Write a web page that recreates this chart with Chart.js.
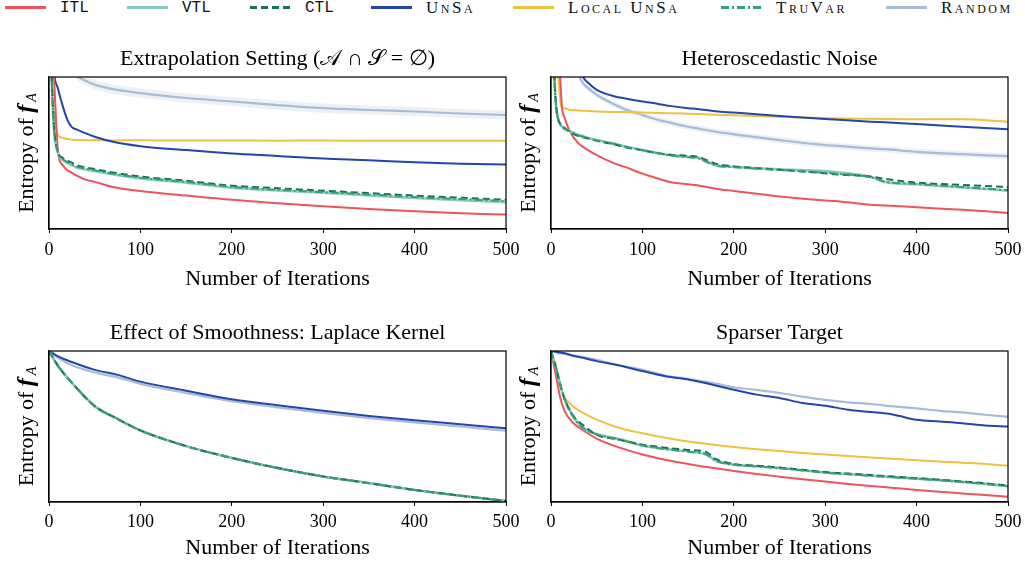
<!DOCTYPE html>
<html>
<head>
<meta charset="utf-8">
<script src="https://cdn.jsdelivr.net/npm/chart.js@4/dist/chart.umd.min.js"></script>
<style>
  body { margin: 0; width: 1025px; height: 562px; overflow: hidden; background: #fff; font-family: "Liberation Serif", serif; }
  .panel { position: absolute; }
  #legend { position: absolute; left: 0; top: 0; width: 1025px; height: 20px; }
  .entry { position: absolute; top: 0; height: 16px; display: flex; align-items: center; }
  .entry svg { display: block; }
  .entry span { margin-left: 14px; font-size: 17px; color: #111; line-height: 16px; }
  .mono { font-family: "Liberation Mono", monospace; font-size: 16px !important; }
  .sc { font-variant: small-caps; letter-spacing: 2.5px; }
</style>
</head>
<body>
<div id="legend"></div>
<div class="panel" style="left:0;top:40px"><canvas id="c1" width="520" height="252"></canvas></div>
<div class="panel" style="left:502px;top:40px"><canvas id="c2" width="520" height="252"></canvas></div>
<div class="panel" style="left:0;top:314px"><canvas id="c3" width="520" height="248"></canvas></div>
<div class="panel" style="left:502px;top:314px"><canvas id="c4" width="520" height="248"></canvas></div>
<script>
// ---- data (y is in plot-height units: 0 = bottom of axes, 1 = top) ----
const seriesNames = ["ITL", "VTL", "CTL", "UnSa", "Local UnSa", "TruVar", "Random"];
const xTicks = [0, 100, 200, 300, 400, 500];

// Extrapolation Setting
const p1X = [0, 5, 10, 15, 20, 25, 30, 40, 50, 70, 100, 150, 200, 250, 300, 350, 400, 450, 500];
const p1Itl = [1.5, 1.05, 0.5, 0.42, 0.386, 0.37, 0.353, 0.325, 0.31, 0.276, 0.25, 0.22, 0.192, 0.17, 0.15, 0.132, 0.117, 0.104, 0.095];
const p1Vtl = [1.5, 0.7, 0.495, 0.455, 0.435, 0.42, 0.405, 0.392, 0.381, 0.36, 0.333, 0.305, 0.272, 0.253, 0.238, 0.221, 0.204, 0.19, 0.177];
const p1Ctl = [1.5, 0.72, 0.505, 0.468, 0.45, 0.436, 0.42, 0.405, 0.394, 0.372, 0.345, 0.318, 0.285, 0.268, 0.252, 0.236, 0.22, 0.206, 0.192];
const p1UnSa = [1.6, 1.05, 0.92, 0.81, 0.72, 0.67, 0.655, 0.63, 0.607, 0.574, 0.545, 0.519, 0.497, 0.481, 0.464, 0.453, 0.439, 0.43, 0.424];
const p1Local = [1.5, 0.8, 0.615, 0.6, 0.592, 0.588, 0.585, 0.584, 0.585, 0.583, 0.584, 0.582, 0.583, 0.581, 0.582, 0.58, 0.581, 0.58, 0.58];
const p1TruVar = [1.5, 0.71, 0.5, 0.46, 0.44, 0.425, 0.41, 0.397, 0.386, 0.364, 0.338, 0.31, 0.277, 0.258, 0.243, 0.227, 0.21, 0.197, 0.184];
const p1Random = [1.5, 1.35, 1.25, 1.17, 1.1, 1.05, 1.01, 0.975, 0.95, 0.92, 0.894, 0.862, 0.839, 0.815, 0.795, 0.783, 0.773, 0.76, 0.75];
const p1RandomLo = [1.47, 1.32, 1.22, 1.14, 1.07, 1.02, 0.98, 0.945, 0.92, 0.89, 0.864, 0.832, 0.809, 0.785, 0.765, 0.753, 0.743, 0.73, 0.72];
const p1RandomHi = [1.53, 1.38, 1.28, 1.2, 1.13, 1.08, 1.04, 1.005, 0.98, 0.95, 0.924, 0.892, 0.869, 0.845, 0.825, 0.813, 0.803, 0.79, 0.78];

// Heteroscedastic Noise
const p2X = [0, 3, 5, 8, 10, 12, 15, 20, 30, 35, 40, 50, 70, 80, 100, 110, 130, 150, 160, 180, 200, 250, 300, 310, 350, 365, 400, 450, 500];
const p2Itl = [1.6, 1.5, 1.4, 1.2, 1.0, 0.8, 0.73, 0.65, 0.563, 0.54, 0.52, 0.486, 0.43, 0.41, 0.364, 0.345, 0.309, 0.294, 0.288, 0.265, 0.25, 0.214, 0.188, 0.185, 0.159, 0.155, 0.143, 0.126, 0.106];
const p2Vtl = [1.6, 1.1, 0.85, 0.717, 0.69, 0.673, 0.66, 0.647, 0.618, 0.61, 0.6, 0.585, 0.56, 0.545, 0.52, 0.508, 0.486, 0.475, 0.47, 0.42, 0.41, 0.392, 0.38, 0.375, 0.342, 0.31, 0.294, 0.274, 0.252];
const p2Ctl = [1.6, 1.1, 0.85, 0.72, 0.695, 0.678, 0.665, 0.64, 0.612, 0.604, 0.596, 0.58, 0.556, 0.54, 0.518, 0.506, 0.488, 0.482, 0.476, 0.43, 0.412, 0.39, 0.366, 0.36, 0.345, 0.33, 0.305, 0.29, 0.276];
const p2UnSa = [2.5, 2.3, 2.2, 2.0, 1.9, 1.8, 1.65, 1.4, 1.07, 1.0, 0.965, 0.916, 0.872, 0.86, 0.839, 0.83, 0.81, 0.795, 0.79, 0.775, 0.766, 0.744, 0.724, 0.72, 0.706, 0.702, 0.69, 0.673, 0.656];
const p2Local = [1.6, 1.4, 1.2, 1.0, 0.85, 0.8, 0.795, 0.785, 0.78, 0.778, 0.776, 0.773, 0.77, 0.769, 0.766, 0.765, 0.762, 0.758, 0.756, 0.752, 0.748, 0.738, 0.73, 0.728, 0.725, 0.724, 0.722, 0.722, 0.706];
const p2TruVar = [1.6, 1.1, 0.85, 0.715, 0.688, 0.67, 0.657, 0.645, 0.615, 0.607, 0.598, 0.583, 0.558, 0.543, 0.518, 0.506, 0.484, 0.472, 0.466, 0.418, 0.406, 0.388, 0.37, 0.365, 0.34, 0.312, 0.296, 0.276, 0.256];
const p2Random = [2.5, 2.3, 2.2, 2.0, 1.9, 1.8, 1.6, 1.3, 1.02, 0.96, 0.93, 0.883, 0.817, 0.79, 0.75, 0.73, 0.7, 0.673, 0.662, 0.64, 0.623, 0.585, 0.552, 0.548, 0.53, 0.525, 0.508, 0.492, 0.479];
const p2RandomLo = [2.48, 2.28, 2.18, 1.98, 1.88, 1.78, 1.58, 1.28, 1.0, 0.94, 0.91, 0.863, 0.797, 0.77, 0.73, 0.71, 0.68, 0.653, 0.642, 0.62, 0.603, 0.565, 0.532, 0.528, 0.51, 0.505, 0.488, 0.472, 0.459];
const p2RandomHi = [2.52, 2.32, 2.22, 2.02, 1.92, 1.82, 1.62, 1.32, 1.04, 0.98, 0.95, 0.903, 0.837, 0.81, 0.77, 0.75, 0.72, 0.693, 0.682, 0.66, 0.643, 0.605, 0.572, 0.568, 0.55, 0.545, 0.528, 0.512, 0.499];

// Effect of Smoothness: Laplace Kernel (ITL, VTL, CTL, Local UnSa, TruVar coincide)
const p3X = [0, 10, 25, 50, 75, 100, 150, 200, 250, 300, 350, 400, 450, 500];
const p3Targeted = [1.0, 0.9, 0.79, 0.635, 0.55, 0.474, 0.37, 0.292, 0.225, 0.169, 0.125, 0.08, 0.042, 0.007];
const p3UnSa = [1.0, 0.964, 0.927, 0.875, 0.842, 0.797, 0.737, 0.681, 0.641, 0.604, 0.57, 0.541, 0.515, 0.488];
const p3Random = [1.0, 0.955, 0.905, 0.858, 0.825, 0.782, 0.722, 0.668, 0.627, 0.59, 0.556, 0.527, 0.5, 0.472];

// Sparser Target
const p4X = [0, 5, 10, 15, 25, 35, 50, 75, 100, 125, 150, 170, 180, 200, 225, 250, 275, 300, 325, 350, 375, 400, 425, 450, 475, 500];
const p4Itl = [1.0, 0.85, 0.693, 0.6, 0.52, 0.475, 0.42, 0.36, 0.315, 0.28, 0.252, 0.232, 0.224, 0.206, 0.186, 0.168, 0.151, 0.135, 0.12, 0.106, 0.093, 0.08, 0.068, 0.057, 0.046, 0.035];
const p4Vtl = [1.0, 0.9, 0.78, 0.68, 0.56, 0.49, 0.45, 0.416, 0.375, 0.352, 0.335, 0.315, 0.275, 0.248, 0.237, 0.225, 0.21, 0.195, 0.185, 0.174, 0.165, 0.155, 0.145, 0.133, 0.12, 0.104];
const p4Ctl = [1.0, 0.9, 0.78, 0.68, 0.565, 0.51, 0.445, 0.412, 0.38, 0.36, 0.345, 0.33, 0.285, 0.252, 0.24, 0.228, 0.213, 0.198, 0.188, 0.178, 0.168, 0.158, 0.148, 0.136, 0.124, 0.108];
const p4UnSa = [1.0, 0.995, 0.99, 0.985, 0.967, 0.955, 0.933, 0.904, 0.867, 0.833, 0.811, 0.787, 0.772, 0.744, 0.711, 0.689, 0.656, 0.638, 0.611, 0.596, 0.578, 0.544, 0.533, 0.522, 0.507, 0.5];
const p4Local = [1.0, 0.88, 0.76, 0.69, 0.63, 0.59, 0.545, 0.49, 0.455, 0.425, 0.4, 0.385, 0.378, 0.365, 0.35, 0.337, 0.325, 0.314, 0.304, 0.295, 0.286, 0.277, 0.268, 0.26, 0.252, 0.24];
const p4TruVar = [1.0, 0.9, 0.78, 0.68, 0.558, 0.492, 0.448, 0.414, 0.374, 0.35, 0.333, 0.314, 0.274, 0.246, 0.235, 0.223, 0.209, 0.194, 0.184, 0.173, 0.164, 0.154, 0.144, 0.132, 0.119, 0.104];
const p4Random = [1.0, 0.993, 0.985, 0.98, 0.971, 0.96, 0.942, 0.904, 0.876, 0.838, 0.816, 0.795, 0.784, 0.76, 0.742, 0.722, 0.698, 0.676, 0.66, 0.649, 0.633, 0.62, 0.604, 0.593, 0.578, 0.564];

// ---- styles ----
const styles = {
  "ITL":        { color: "#ef535b", dash: [],           width: 2,   order: 4 },
  "VTL":        { color: "#86cbbd", dash: [],           width: 2.6, order: 3 },
  "CTL":        { color: "#17705a", dash: [7, 4],       width: 2,   order: 2 },
  "UnSa":       { color: "#2446aa", dash: [],           width: 2,   order: 5 },
  "Local UnSa": { color: "#edc343", dash: [],           width: 2,   order: 6 },
  "TruVar":     { color: "#3b9d70", dash: [8, 3, 2, 3], width: 2,   order: 1 },
  "Random":     { color: "#a7bdd7", dash: [],           width: 2.2, order: 7 },
};
const legendLeft = [5, 127, 250, 371, 513, 721, 886];
const FONT = "Liberation Serif";

// legend
const legendEl = document.getElementById("legend");
seriesNames.forEach((name, i) => {
  const s = styles[name];
  const div = document.createElement("div");
  div.className = "entry";
  div.style.left = legendLeft[i] + "px";
  div.style.top = "0px";
  const dash = s.dash.length ? `stroke-dasharray="${s.dash.join(",")}"` : "";
  const cls = i < 3 ? "mono" : "sc";
  div.innerHTML =
    `<svg width="41" height="16"><line x1="0" y1="7.5" x2="41" y2="7.5" stroke="${s.color}" stroke-width="3" ${dash}/></svg>` +
    `<span class="${cls}">${name}</span>`;
  legendEl.appendChild(div);
});

const framePlugin = {
  id: "frame",
  afterDraw(chart) {
    const { ctx, chartArea: a } = chart;
    ctx.save();
    ctx.strokeStyle = "#000";
    ctx.lineWidth = 1.2;
    ctx.strokeRect(a.left, a.top, a.right - a.left, a.bottom - a.top);
    // y label: Entropy of f_A
    const cy = (a.top + a.bottom) / 2;
    ctx.translate(27, cy);
    ctx.rotate(-Math.PI / 2);
    ctx.fillStyle = "#000";
    ctx.textBaseline = "middle";
    const part1 = "Entropy of ";
    ctx.font = `22px "${FONT}"`;
    const w1 = ctx.measureText(part1).width;
    ctx.font = `italic bold 24px "${FONT}"`;
    const w2 = ctx.measureText("f").width;
    ctx.font = `italic 14px "${FONT}"`;
    const w3 = ctx.measureText("A").width;
    const total = w1 + w2 + 3 + w3;
    let x = -total / 2;
    ctx.font = `22px "${FONT}"`;
    ctx.fillText(part1, x, 0);
    x += w1;
    ctx.font = `italic bold 24px "${FONT}"`;
    ctx.fillText("f", x, 0);
    x += w2 + 3;
    ctx.font = `italic 14px "${FONT}"`;
    ctx.fillText("A", x, 5);
    ctx.restore();
  },
};

function makeChart(id, title, xs, series, band, bottomRow) {
  const datasets = [];
  series.forEach(([name, ys]) => {
    const s = styles[name];
    datasets.push({
      label: name,
      data: xs.map((x, i) => ({ x, y: ys[i] })),
      borderColor: s.color,
      borderWidth: s.width,
      borderDash: s.dash,
      pointRadius: 0,
      cubicInterpolationMode: "monotone",
      fill: false,
      order: s.order,
    });
  });
  if (band) {
    datasets.push({
      label: "randomLo",
      data: xs.map((x, i) => ({ x, y: band[0][i] })),
      borderWidth: 0, pointRadius: 0, fill: false, order: 9,
      cubicInterpolationMode: "monotone",
    });
    datasets.push({
      label: "randomHi",
      data: xs.map((x, i) => ({ x, y: band[1][i] })),
      borderWidth: 0, pointRadius: 0, fill: "-1", order: 8,
      backgroundColor: "rgba(167,189,215,0.22)",
      cubicInterpolationMode: "monotone",
    });
  }
  // bottom axis height fixed so the plot boxes line up with the original
  const xAxisHeight = bottomRow ? 60 : 63;
  return new Chart(document.getElementById(id), {
    type: "line",
    data: { datasets },
    plugins: [framePlugin],
    options: {
      responsive: false,
      animation: false,
      layout: { padding: { left: 49, right: 14, top: 0, bottom: 0 } },
      plugins: {
        legend: { display: false },
        tooltip: { enabled: false },
        title: {
          display: true,
          text: title,
          color: "#000",
          font: { family: FONT, size: 22, weight: "normal" },
          padding: { top: 6, bottom: 4.6 },
        },
      },
      scales: {
        x: {
          type: "linear",
          min: 0,
          max: 500,
          afterBuildTicks: (axis) => { axis.ticks = xTicks.map((v) => ({ value: v })); },
          afterFit: (scale) => {
            scale.height = xAxisHeight;
            scale.paddingLeft = 0;
            scale.paddingRight = 0;
          },
          ticks: { color: "#000", font: { family: FONT, size: 18 }, padding: bottomRow ? 5 : 6, maxRotation: 0 },
          grid: { display: true, drawOnChartArea: false, drawTicks: true, tickLength: 4, color: "#000" },
          border: { display: true, color: "#000", width: 1.2 },
          title: {
            display: true,
            text: "Number of Iterations",
            color: "#000",
            font: { family: FONT, size: 22, lineHeight: 1 },
            padding: { top: 0, bottom: bottomRow ? 3 : 2 },
          },
        },
        y: {
          min: 0,
          max: 1,
          afterFit: (scale) => {
            scale.width = 0;
            scale.paddingTop = 0;
            scale.paddingBottom = 0;
          },
          ticks: { display: false },
          grid: { display: false, drawTicks: false },
          border: { display: true, color: "#000", width: 1.2 },
        },
      },
    },
  });
}

makeChart("c1", "Extrapolation Setting (\u{1D49C} \u2229 \u{1D4AE} = \u2205)", p1X, [
  ["TruVar", p1TruVar], ["CTL", p1Ctl], ["VTL", p1Vtl], ["ITL", p1Itl],
  ["UnSa", p1UnSa], ["Local UnSa", p1Local], ["Random", p1Random],
], [p1RandomLo, p1RandomHi], false);

makeChart("c2", "Heteroscedastic Noise", p2X, [
  ["TruVar", p2TruVar], ["CTL", p2Ctl], ["VTL", p2Vtl], ["ITL", p2Itl],
  ["UnSa", p2UnSa], ["Local UnSa", p2Local], ["Random", p2Random],
], [p2RandomLo, p2RandomHi], false);

makeChart("c3", "Effect of Smoothness: Laplace Kernel", p3X, [
  ["TruVar", p3Targeted], ["CTL", p3Targeted], ["VTL", p3Targeted], ["ITL", p3Targeted],
  ["UnSa", p3UnSa], ["Local UnSa", p3Targeted], ["Random", p3Random],
], null, true);

makeChart("c4", "Sparser Target", p4X, [
  ["TruVar", p4TruVar], ["CTL", p4Ctl], ["VTL", p4Vtl], ["ITL", p4Itl],
  ["UnSa", p4UnSa], ["Local UnSa", p4Local], ["Random", p4Random],
], null, true);
</script>
</body>
</html>
